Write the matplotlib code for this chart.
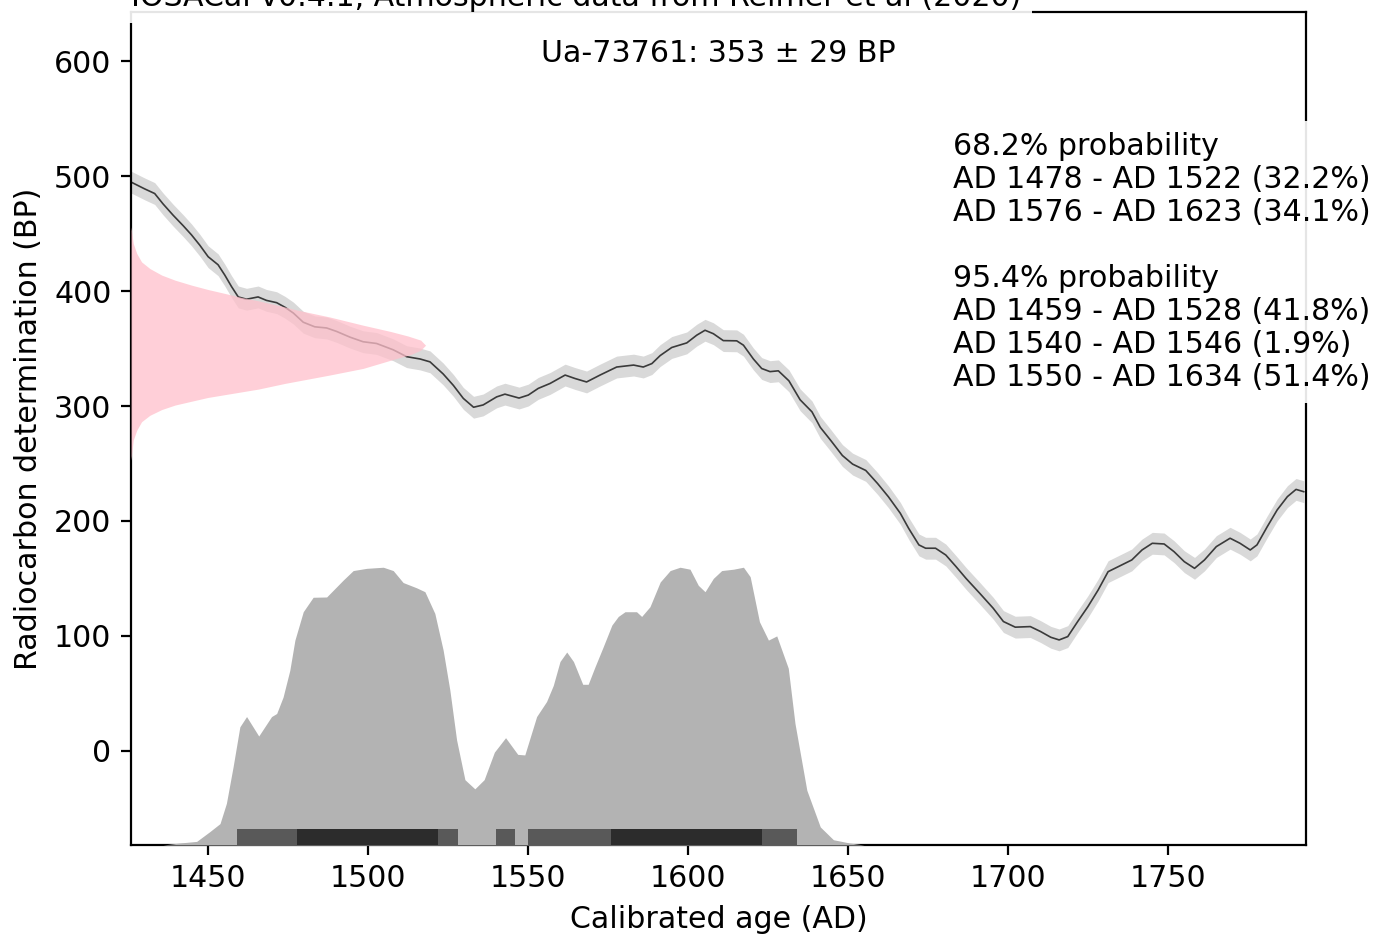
import numpy as np
import matplotlib
matplotlib.use('Agg')
import matplotlib.pyplot as plt

plt.rcParams['font.size'] = 10.8

# calibration curve (IntCal20 section)
curve_year = [1426, 1427, 1430.3, 1433.4, 1436, 1439.2, 1442.3, 1444.9, 1447.5, 1450.1,
              1453.2, 1455.3, 1457.4, 1459.5, 1462.1, 1465.7, 1468.3, 1471.5, 1474.1, 1476.7,
              1479.8, 1483.4, 1487.1, 1490.2, 1494.4, 1498.5, 1502.7, 1507.9, 1512.1, 1516.3,
              1519.4, 1523.5, 1526.7, 1529.8, 1533, 1536, 1540.2, 1542.8, 1547.2, 1550.1,
              1553.2, 1556.9, 1561.6, 1564.7, 1568.3, 1572.5, 1577.7, 1583, 1586, 1588.7,
              1591.3, 1594.9, 1599.6, 1602.7, 1605.3, 1607.9, 1611, 1615.2, 1617.3, 1620.4,
              1623, 1625.6, 1628.2, 1631.5, 1635, 1638.7, 1641.3, 1644.6, 1648.2, 1651.4,
              1655.5, 1659.2, 1662.6, 1666.3, 1668.9, 1672.1, 1674.2, 1677.3, 1680.5, 1683.7,
              1686.8, 1691.1, 1695.3, 1698.5, 1702.2, 1706.9, 1710.1, 1713.3, 1715.9, 1718.6,
              1721.7, 1724.9, 1728.1, 1731.2, 1734.4, 1738.6, 1741.8, 1745, 1748.7, 1751.8,
              1755, 1758.2, 1761.3, 1765, 1769.3, 1772.4, 1775.6, 1777.7, 1780.9, 1784,
              1787.2, 1789.9, 1792.3]
curve_bp = [495, 493.6, 489, 485, 476, 466, 457, 449, 440, 430,
            423, 414, 404, 395, 393, 395, 392, 390, 386, 381,
            373, 369, 368, 365, 360, 356, 354.5, 349, 343, 341,
            338.5, 328, 318, 306.7, 299, 301, 308, 310.4, 307, 309.6,
            315.4, 319.7, 327, 324, 321, 327, 334, 335.7, 334, 337,
            344, 351, 355, 361.7, 366, 363, 357, 356.8, 353, 341,
            332.7, 330, 330.7, 322, 305.5, 295, 281.5, 270, 257, 249.5,
            244, 232.6, 221, 206.7, 193.6, 179.2, 176.3, 176.3, 170.4, 160.3,
            150.1, 137.1, 124.1, 112.5, 107.6, 108.1, 103.8, 98.8, 96.5, 99.4,
            112.5, 125.5, 140, 155.9, 160.3, 166.1, 174.8, 180.6, 180, 173.3,
            164.6, 158.8, 166.1, 177.7, 185, 180.6, 174.8, 179.2, 195, 209.6,
            221.2, 227.5, 225.5]
curve_err = 9.5

# radiocarbon determination Ua-73761 (pink profile, width in years from the left edge)
rc_bp = [253, 270.4, 279, 286.4, 292, 297, 300.9, 304.3, 307.5, 310, 312.4, 314.8,
         319.7, 327, 332.8, 341.5, 345, 348.7, 353, 357.4, 361, 365, 370.4, 377.6,
         383.5, 387, 391.6, 394.5, 398, 401.5, 405.2, 409.6, 414, 419.7, 425.5, 432.8,
         441.5, 456]
rc_width = [0, 0.7, 1.8, 3.3, 5.9, 9.6, 13.75, 19, 24, 29.4, 34.6, 39.8,
            48, 62, 72.5, 83, 87.5, 90.5, 92, 90.5, 86.5, 81, 72.5, 62,
            52, 47, 39.8, 34.6, 29.4, 24, 19, 13.75, 9.6, 5.9, 3.3, 1.8,
            0.7, 0]

# calibrated probability (relative to peak)
cal_year = [1436, 1441, 1446.5, 1450.6, 1453.8, 1455.8, 1457.9, 1460, 1462.1, 1465.9,
            1469.9, 1471.5, 1473.5, 1475.6, 1477.2, 1479.8, 1482.9, 1487.1, 1492.3, 1495.4,
            1499.6, 1504.8, 1507.9, 1511, 1515.2, 1517.8, 1520.9, 1523.5, 1525.6, 1527.7,
            1530.3, 1533.4, 1536.3, 1539.5, 1543, 1546.8, 1549, 1552.7, 1555.8, 1557.9,
            1560, 1562.1, 1564.2, 1567.1, 1568.8, 1570.9, 1573.5, 1576.2, 1578.2, 1580.3,
            1583.9, 1585.5, 1588.1, 1591.3, 1594.4, 1597.5, 1600.6, 1603.2, 1605.3, 1607.9,
            1610.5, 1614.2, 1617.3, 1619.4, 1622.3, 1625.1, 1627.7, 1631.3, 1633.4, 1637.1,
            1641.3, 1645.4, 1650.6, 1655]
cal_prob = [0, 0.007, 0.013, 0.048, 0.077, 0.150, 0.282, 0.425, 0.462, 0.392,
            0.462, 0.473, 0.532, 0.628, 0.737, 0.839, 0.891, 0.892, 0.953, 0.987,
            0.995, 0.999, 0.987, 0.944, 0.925, 0.911, 0.833, 0.701, 0.557, 0.378,
            0.235, 0.202, 0.235, 0.334, 0.386, 0.326, 0.324, 0.462, 0.516, 0.574,
            0.660, 0.694, 0.660, 0.578, 0.578, 0.640, 0.713, 0.791, 0.822, 0.839,
            0.839, 0.822, 0.857, 0.946, 0.987, 0.999, 0.992, 0.934, 0.911, 0.959,
            0.987, 0.992, 0.999, 0.965, 0.803, 0.737, 0.752, 0.636, 0.437, 0.197,
            0.065, 0.019, 0.007, 0]

hpd_95 = [(1459, 1528), (1540, 1546), (1550, 1634)]
hpd_68 = [(1478, 1522), (1576, 1623)]

title = 'IOSACal v0.4.1, Atmospheric data from Reimer et al (2020)'
date_label = 'Ua-73761: 353 \u00b1 29 BP'
hpd_text = ('68.2% probability\n'
            'AD 1478 - AD 1522 (32.2%)\n'
            'AD 1576 - AD 1623 (34.1%)\n'
            '\n'
            '95.4% probability\n'
            'AD 1459 - AD 1528 (41.8%)\n'
            'AD 1540 - AD 1546 (1.9%)\n'
            'AD 1550 - AD 1634 (51.4%)')

xmin, xmax = 1426, 1793
ymin, ymax = -82, 643

fig = plt.figure(figsize=(6.88, 4.68), dpi=200)
ax = fig.add_axes([0.0952, 0.0972, 0.8539, 0.89])

cy = np.array(curve_year)
cb = np.array(curve_bp)
ax.fill_between(cy, cb - curve_err, cb + curve_err, color='#d9d9d9', lw=0, zorder=1)
ax.plot(cy, cb, color='#3a3a3a', lw=0.6, zorder=2)

# radiocarbon date, drawn sideways from the left edge
ax.fill_betweenx(rc_bp, xmin, xmin + np.array(rc_width), color='pink', alpha=0.75, lw=0, zorder=3)

# calibrated distribution
peak = 160 - ymin
ax.fill_between(cal_year, ymin, ymin + np.array(cal_prob) * peak, color='#b3b3b3', lw=0, zorder=3)

bar_h = 14
for a, b in hpd_95:
    ax.fill_between([a, b], ymin, ymin + bar_h, color='k', alpha=0.5, lw=0, zorder=4)
for a, b in hpd_68:
    ax.fill_between([a, b], ymin, ymin + bar_h, color='k', alpha=0.5, lw=0, zorder=4)

ax.set_xlim(xmin, xmax)
ax.set_ylim(ymin, ymax)
ax.set_xticks([1450, 1500, 1550, 1600, 1650, 1700, 1750])
ax.set_yticks([0, 100, 200, 300, 400, 500, 600])
ax.set_xlabel('Calibrated age (AD)')
ax.set_ylabel('Radiocarbon determination (BP)')

box = dict(facecolor='white', alpha=0.9, lw=0)
ax.text(0.5, 0.95, date_label, ha='center', va='center', transform=ax.transAxes, bbox=box, zorder=6)
ax.text(0.7, 0.7, hpd_text, ha='left', va='center', linespacing=1.17,
        transform=ax.transAxes, bbox=box, zorder=6)
ax.text(0.0, 1.0, title, ha='left', va='bottom', transform=ax.transAxes, bbox=box, zorder=6)

fig.savefig('out.png', dpi=200)
